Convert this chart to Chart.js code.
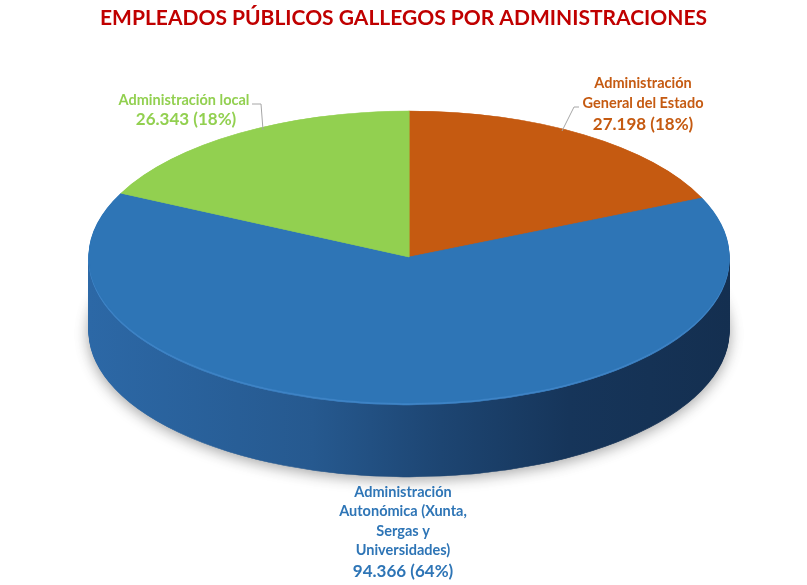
<!DOCTYPE html>
<html>
<head>
<meta charset="utf-8">
<script src="https://cdn.jsdelivr.net/npm/chart.js@4.4.0/dist/chart.umd.min.js"></script>
<style>
  html, body { margin: 0; padding: 0; background: #fff; }
  #wrap { width: 807px; height: 585px; }
</style>
</head>
<body>
<div id="wrap"><canvas id="pieChart"></canvas></div>
<script>
// data
const categories = ['Administración General del Estado', 'Administración Autonómica (Xunta, Sergas y Universidades)', 'Administración local'];
const employees = [27198, 94366, 26343];
const labelLines = [
    ['Administración', 'General del Estado'],
    ['Administración', 'Autonómica (Xunta,', 'Sergas y', 'Universidades)'],
    ['Administración local']
];

const sliceColors = ['#c55a11', '#2e75b6', '#92d050'];
const sideColors = ['#8a3f0c', '#1f4e79', '#5f8f2a'];
const rimColors = ['#d06a25', '#3f84c6', '#a0d865'];
const FONT = 'Lato, "Open Sans", sans-serif';

const total = employees.reduce((a, b) => a + b, 0);
const fmt = v => String(v).replace(/\B(?=(\d{3})+(?!\d))/g, '.');

// squash the flat pie into a tilted disc and give it a side
const pie3d = {
    id: 'pie3d',
    beforeDatasetsDraw(chart, args, opts) {
        const ctx = chart.ctx;
        const arcs = chart.getDatasetMeta(0).data;
        const a = arcs[0];
        const r = a.outerRadius;
        const sx = opts.rx / r, sy = opts.ry / r;
        ctx.save();
        ctx.translate(opts.cx, opts.cy);
        ctx.scale(sx, sy);
        ctx.translate(-a.x, -a.y);

        const grad = ctx.createLinearGradient(a.x - r, 0, a.x + r, 0);
        grad.addColorStop(0, '#2c68a6');
        grad.addColorStop(0.35, '#26598f');
        grad.addColorStop(0.55, '#1d4572');
        grad.addColorStop(0.75, '#16355a');
        grad.addColorStop(1, '#142f50');

        for (let d = opts.depth; d > 0; d--) {
            ctx.save();
            ctx.translate(0, d / sy);
            if (d === opts.depth) {
                ctx.shadowColor = 'rgba(0,0,0,0.35)';
                ctx.shadowBlur = 14;
                ctx.shadowOffsetY = 3;
            }
            arcs.forEach((arc, i) => {
                const o = arc.options;
                const fill = d <= 2 ? rimColors[i] : (i === 1 ? grad : sideColors[i]);
                arc.options = Object.assign({}, o, { backgroundColor: fill, borderColor: fill, borderWidth: 1 });
                arc.draw(ctx);
                arc.options = o;
            });
            ctx.restore();
        }
    },
    afterDatasetsDraw(chart) {
        chart.ctx.restore();
    }
};

const sliceLabels = {
    id: 'sliceLabels',
    afterDraw(chart, args, opts) {
        const ctx = chart.ctx;
        ctx.save();
        ctx.strokeStyle = '#a6a6a6';
        ctx.lineWidth = 1;
        opts.leaders.forEach(pts => {
            ctx.beginPath();
            pts.forEach((p, k) => k ? ctx.lineTo(p[0], p[1]) : ctx.moveTo(p[0], p[1]));
            ctx.stroke();
        });
        ctx.textAlign = 'center';
        ctx.textBaseline = 'middle';
        opts.spots.forEach((s, i) => {
            ctx.fillStyle = sliceColors[i];
            ctx.font = 'bold 14.5px ' + FONT;
            labelLines[i].forEach((line, k) => {
                ctx.fillText(line, s.x, s.y + k * s.lh);
            });
            const pct = Math.round(employees[i] / total * 100);
            ctx.font = 'bold 17px ' + FONT;
            ctx.fillText(fmt(employees[i]) + ' (' + pct + '%)', s.vx, s.vy);
        });
        ctx.restore();
    }
};

new Chart(document.getElementById('pieChart'), {
    type: 'pie',
    data: {
        labels: categories,
        datasets: [{
            data: employees,
            backgroundColor: sliceColors,
            borderColor: sliceColors,
            borderWidth: 1,
            clip: false
        }]
    },
    options: {
        responsive: true,
        maintainAspectRatio: false,
        animation: false,
        events: [],
        plugins: {
            legend: { display: false },
            tooltip: { enabled: false },
            title: {
                display: true,
                text: 'EMPLEADOS PÚBLICOS GALLEGOS POR ADMINISTRACIONES',
                color: '#c00000',
                font: { family: FONT, size: 21, weight: 'bold' },
                padding: { top: 6, bottom: 10 }
            },
            pie3d: { cx: 409, cy: 257, rx: 320, ry: 146, depth: 74 },
            sliceLabels: {
                spots: [
                    { x: 643, y: 83, lh: 20, vx: 643, vy: 125 },
                    { x: 403, y: 492, lh: 19.5, vx: 403, vy: 572 },
                    { x: 184, y: 100, lh: 20, vx: 186, vy: 120 }
                ],
                leaders: [
                    [[252, 104], [261, 104], [263, 130]],
                    [[579, 107], [574, 107], [562, 131]]
                ]
            }
        }
    },
    plugins: [pie3d, sliceLabels]
});
</script>
</body>
</html>
